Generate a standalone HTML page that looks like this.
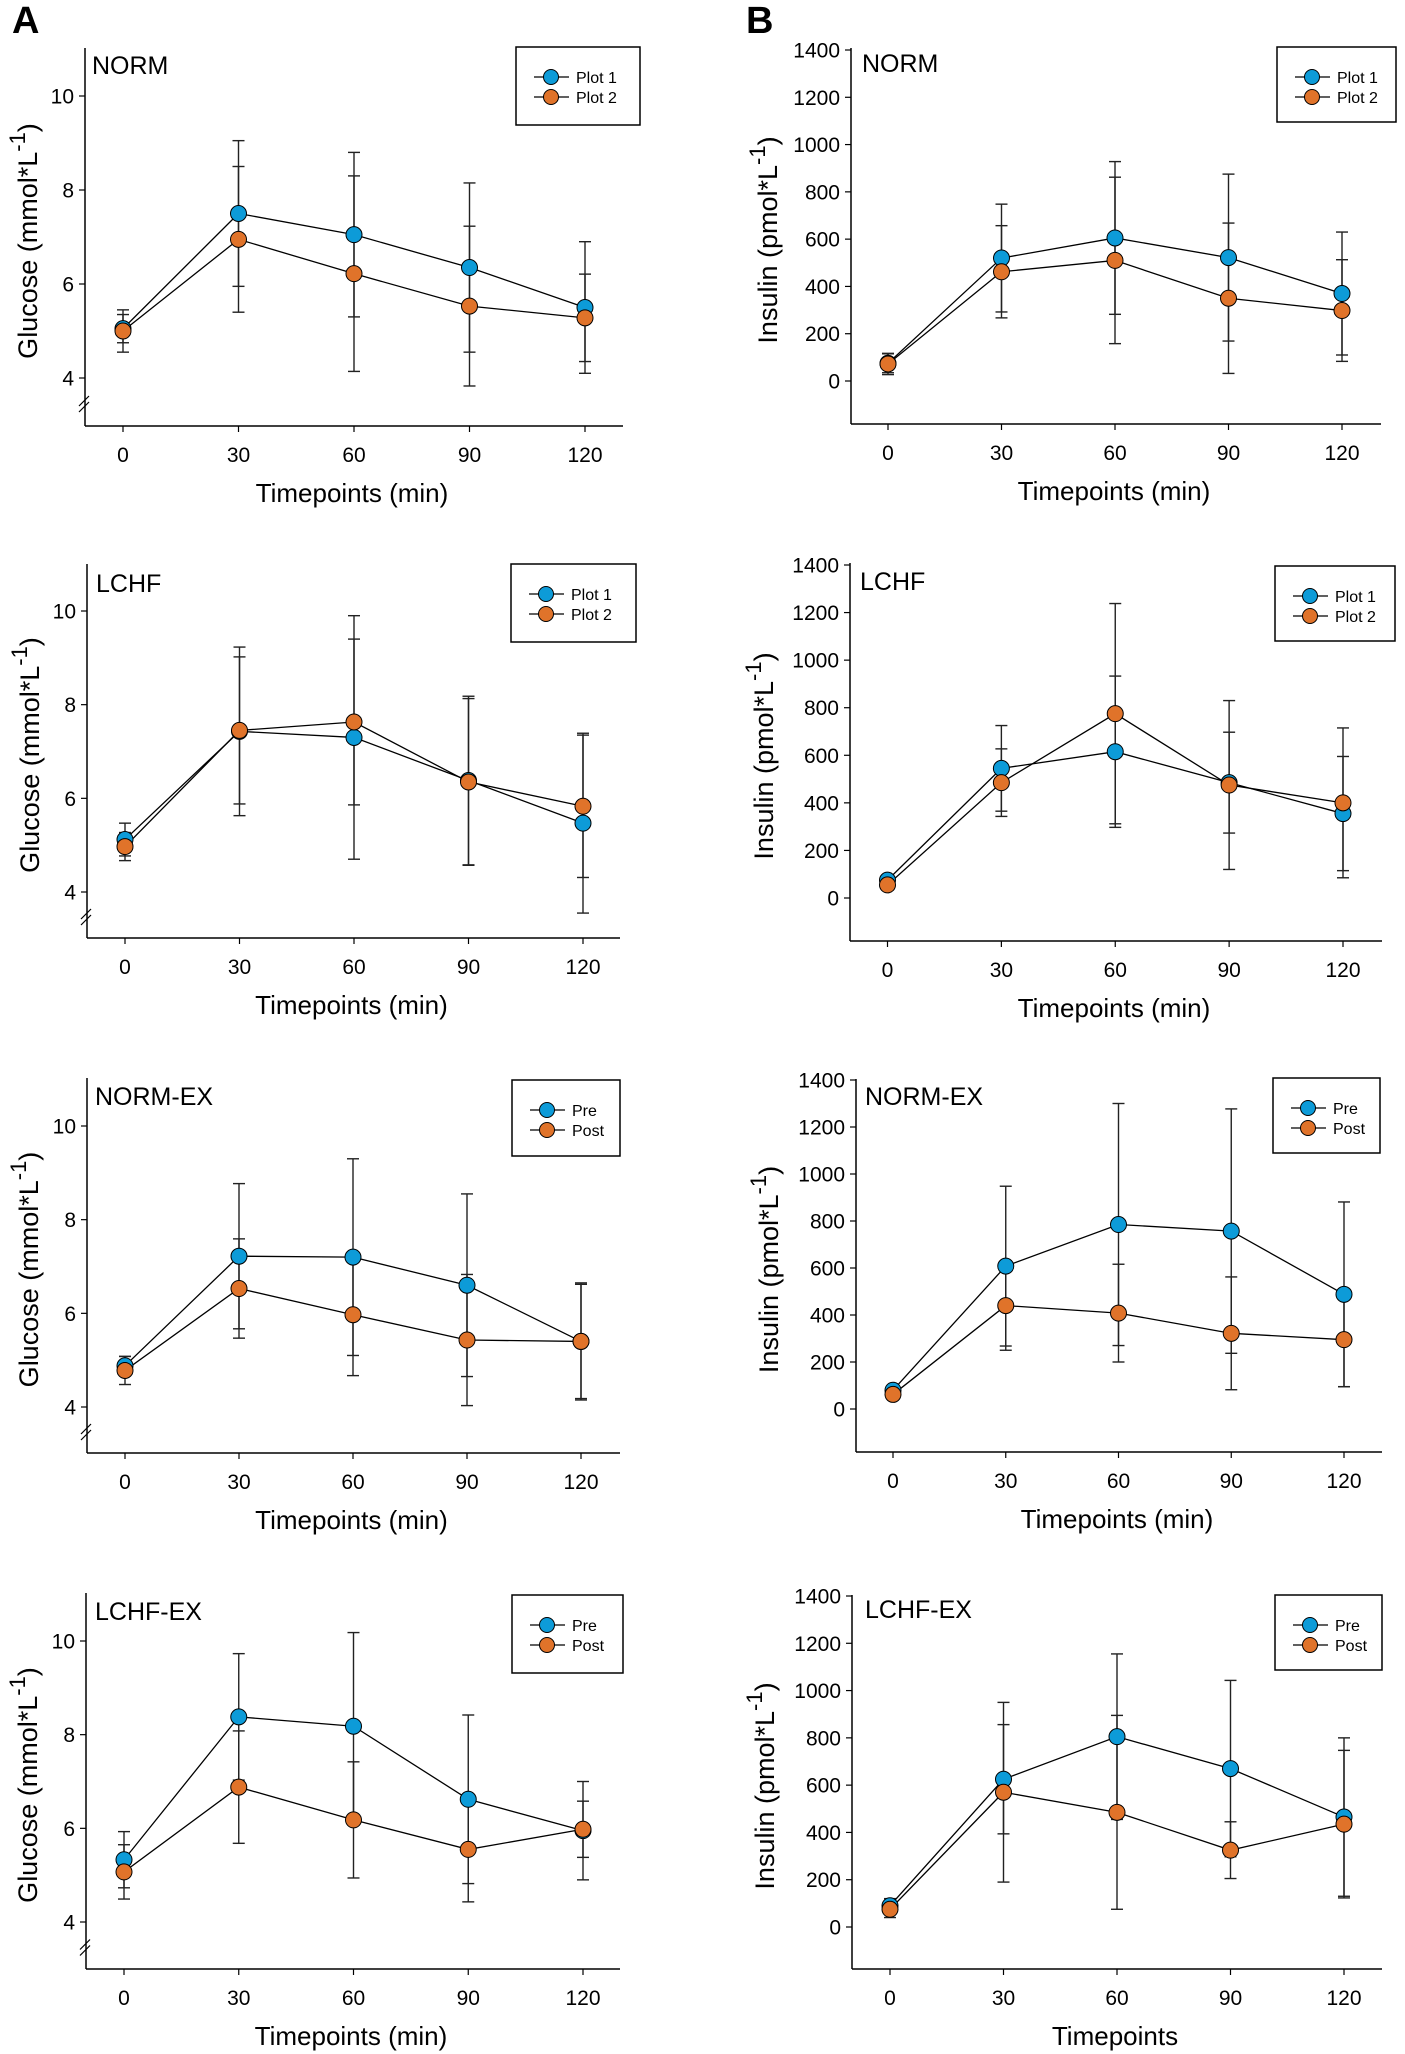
<!DOCTYPE html>
<html>
<head>
<meta charset="utf-8">
<style>
html,body{margin:0;padding:0;background:#fff;}
svg{display:block;}
text{font-family:"Liberation Sans Narrow","Liberation Sans",Arial,sans-serif;fill:#000;}
</style>
</head>
<body>
<svg id="fig" xmlns="http://www.w3.org/2000/svg" width="1405" height="2054" viewBox="0 0 1405 2054">
<rect x="0" y="0" width="1405" height="2054" fill="#fff"/>
<text x="12" y="33" font-size="38" font-weight="bold" style="font-family:'Liberation Sans',sans-serif">A</text>
<text x="746" y="33" font-size="38" font-weight="bold" style="font-family:'Liberation Sans',sans-serif">B</text>
</svg>
<script>
// ---- data ----
const timepoints = [0, 30, 60, 90, 120];
const glucoseTicks = [4, 6, 8, 10];
const insulinTicks = [0, 200, 400, 600, 800, 1000, 1200, 1400];

const normGluP1 = [5.05, 7.5, 7.05, 6.35, 5.5];
const normGluP1Err = [0.3, 1.55, 1.75, 1.8, 1.4];
const normGluP2 = [5.0, 6.95, 6.22, 5.53, 5.28];
const normGluP2Err = [0.45, 1.55, 2.08, 1.7, 0.93];

const lchfGluP1 = [5.12, 7.43, 7.3, 6.38, 5.47];
const lchfGluP1Err = [0.35, 1.8, 2.6, 1.8, 1.92];
const lchfGluP2 = [4.97, 7.45, 7.63, 6.35, 5.83];
const lchfGluP2Err = [0.3, 1.57, 1.77, 1.78, 1.52];

const normExGluPre = [4.88, 7.22, 7.2, 6.6, 5.4];
const normExGluPreErr = [0.2, 1.55, 2.1, 1.95, 1.25];
const normExGluPost = [4.78, 6.53, 5.97, 5.43, 5.4];
const normExGluPostErr = [0.3, 1.06, 1.3, 1.4, 1.22];

const lchfExGluPre = [5.33, 8.38, 8.18, 6.62, 5.95];
const lchfExGluPreErr = [0.6, 1.35, 2.0, 1.8, 1.05];
const lchfExGluPost = [5.07, 6.88, 6.18, 5.55, 5.98];
const lchfExGluPostErr = [0.58, 1.2, 1.24, 1.12, 0.6];

const normInsP1 = [75, 520, 605, 522, 370];
const normInsP1Err = [40, 228, 323, 353, 260];
const normInsP2 = [72, 462, 510, 350, 298];
const normInsP2Err = [45, 195, 352, 318, 215];

const lchfInsP1 = [75, 545, 615, 485, 355];
const lchfInsP1Err = [20, 180, 318, 212, 240];
const lchfInsP2 = [55, 485, 775, 475, 400];
const lchfInsP2Err = [20, 142, 463, 355, 315];

const normExInsPre = [80, 608, 785, 757, 488];
const normExInsPreErr = [20, 340, 515, 520, 393];
const normExInsPost = [62, 440, 408, 322, 295];
const normExInsPostErr = [20, 190, 208, 240, 200];

const lchfExInsPre = [90, 625, 805, 670, 465];
const lchfExInsPreErr = [30, 231, 350, 373, 335];
const lchfExInsPost = [75, 570, 485, 325, 435];
const lchfExInsPostErr = [35, 380, 410, 120, 312];

// ---- drawing ----
const NS = 'http://www.w3.org/2000/svg';
const svg = document.getElementById('fig');
const BLUE = '#0d9bd8', ORANGE = '#e0732a';

function mk(tag, attrs, parent) {
  const el = document.createElementNS(NS, tag);
  for (const k in attrs) el.setAttribute(k, attrs[k]);
  (parent || svg).appendChild(el);
  return el;
}

function panel(p) {
  const g = mk('g', {});
  
  
  const xs = v => p.x0 + (v - 0) * (p.x120 - p.x0) / 120;
  const ys = v => p.yHiPx + (p.yHi - v) * (p.yLoPx - p.yHiPx) / (p.yHi - p.yLo);
  const ya = mk('line', {x1: p.ax, y1: p.top, x2: p.ax, y2: p.bottom, stroke: '#000', 'stroke-width': 1.5}, g);
  
  
  const xa = mk('line', {x1: p.ax, y1: p.bottom, x2: p.right, y2: p.bottom, stroke: '#000', 'stroke-width': 1.5}, g);
  
  
  if (p.brk) {
    const by = (ys(p.yLo) + p.bottom) / 2 + 2;
    [-3, 3].forEach(d => {
      const bl = mk('line', {x1: p.ax - 6, y1: by + d + 5, x2: p.ax + 4, y2: by + d - 5, stroke: '#000', 'stroke-width': 1.2}, g);
      
      
    });
  }
  p.ticks.forEach(t => {
    const y = ys(t);
    mk('line', {x1: p.ax - 6, y1: y, x2: p.ax, y2: y, stroke: '#000', 'stroke-width': 1.2}, g);
    const tl = mk('text', {x: p.ax - 11, y: y + 7.5, 'font-size': 21, 'text-anchor': 'end'}, g);
    tl.textContent = t;
    
    
  });
  timepoints.forEach(t => {
    const x = xs(t);
    mk('line', {x1: x, y1: p.bottom, x2: x, y2: p.bottom + 6, stroke: '#000', 'stroke-width': 1.2}, g);
    const tl = mk('text', {x: x, y: p.bottom + 36, 'font-size': 21, 'text-anchor': 'middle'}, g);
    tl.textContent = t;
    
    
  });
  const xt = mk('text', {x: (p.ax + p.right) / 2 - 2, y: p.bottom + 76, 'font-size': 26, 'text-anchor': 'middle'}, g);
  xt.textContent = p.xTitle;
  
  
  const cy = (p.top + p.bottom) / 2 + 4;
  const yt = mk('text', {x: 0, y: 0, 'font-size': 27, 'text-anchor': 'middle', transform: 'translate(' + p.ytx + ',' + cy + ') rotate(-90)'}, g);
  
  
  const t1 = mk('tspan', {}, yt); t1.textContent = p.yTitle + ' (' + p.unit + '*L';
  const t2 = mk('tspan', {'font-size': 22, dy: -12}, yt); t2.textContent = '-1';
  const t3 = mk('tspan', {dy: 12}, yt); t3.textContent = ')';
  const pt = mk('text', {x: p.tx, y: p.ty, 'font-size': 25}, g);
  pt.textContent = p.title;
  
  
  const L = p.leg;
  const lg = mk('g', {}, g);
  
  
  mk('rect', {x: L[0], y: L[1], width: L[2] - L[0], height: L[3] - L[1], fill: '#fff', stroke: '#000', 'stroke-width': 1.5}, lg);
  const ly = [L[1] + 30, L[1] + 50];
  [[BLUE, p.names[0]], [ORANGE, p.names[1]]].forEach((e, i) => {
    const eg = mk('g', {}, lg);
    
    
    mk('line', {x1: L[0] + 18, y1: ly[i], x2: L[0] + 53, y2: ly[i], stroke: '#000', 'stroke-width': 1.2}, eg);
    mk('circle', {cx: L[0] + 35, cy: ly[i], r: 7.5, fill: e[0], stroke: '#000', 'stroke-width': 1}, eg);
    const et = mk('text', {x: L[0] + 60, y: ly[i] + 6, 'font-size': 16}, eg);
    et.textContent = e[1];
  });
  const series = [[p.s1, p.e1, BLUE, 'series-1'], [p.s2, p.e2, ORANGE, 'series-2']];
  series.forEach(s => {
    const sg = mk('g', {}, g);
    
    
    s[0].forEach((v, i) => {
      const x = xs(timepoints[i]);
      const yh = ys(v + s[1][i]), yl = ys(v - s[1][i]);
      mk('line', {x1: x, y1: yh, x2: x, y2: yl, stroke: '#222', 'stroke-width': 1.4}, sg);
      mk('line', {x1: x - 6, y1: yh, x2: x + 6, y2: yh, stroke: '#222', 'stroke-width': 1.4}, sg);
      mk('line', {x1: x - 6, y1: yl, x2: x + 6, y2: yl, stroke: '#222', 'stroke-width': 1.4}, sg);
    });
  });
  series.forEach(s => {
    const pts = s[0].map((v, i) => xs(timepoints[i]) + ',' + ys(v)).join(' ');
    const pl = mk('polyline', {points: pts, fill: 'none', stroke: '#000', 'stroke-width': 1.3}, g);
    
    
  });
  series.forEach(s => {
    s[0].forEach((v, i) => {
      const c = mk('circle', {cx: xs(timepoints[i]), cy: ys(v), r: 8, fill: s[2], stroke: '#000', 'stroke-width': 1}, g);
      
      
    });
  });
}

const G = {yTitle: 'Glucose', unit: 'mmol', ticks: glucoseTicks, yHi: 10, yLo: 4, brk: true, xTitle: 'Timepoints (min)'};
const I = {yTitle: 'Insulin', unit: 'pmol', ticks: insulinTicks, yHi: 1400, yLo: 0, brk: false, xTitle: 'Timepoints (min)'};

panel(Object.assign({}, G, {name: 'glucose-norm-panel', title: 'NORM', names: ['Plot 1', 'Plot 2'],
  ax: 85, top: 48, bottom: 426, right: 623, x0: 123, x120: 585, yHiPx: 96, yLoPx: 378,
  leg: [516, 47, 640, 125], tx: 92, ty: 74, ytx: 37,
  s1: normGluP1, e1: normGluP1Err, s2: normGluP2, e2: normGluP2Err}));
panel(Object.assign({}, G, {name: 'glucose-lchf-panel', title: 'LCHF', names: ['Plot 1', 'Plot 2'],
  ax: 87, top: 564, bottom: 938, right: 620, x0: 125, x120: 583, yHiPx: 611, yLoPx: 892,
  leg: [511, 564, 636, 642], tx: 96, ty: 592, ytx: 39,
  s1: lchfGluP1, e1: lchfGluP1Err, s2: lchfGluP2, e2: lchfGluP2Err}));
panel(Object.assign({}, G, {name: 'glucose-norm-ex-panel', title: 'NORM-EX', names: ['Pre', 'Post'],
  ax: 87, top: 1078, bottom: 1453, right: 620, x0: 125, x120: 581, yHiPx: 1126, yLoPx: 1407,
  leg: [512, 1080, 620, 1156], tx: 95, ty: 1105, ytx: 38,
  s1: normExGluPre, e1: normExGluPreErr, s2: normExGluPost, e2: normExGluPostErr}));
panel(Object.assign({}, G, {name: 'glucose-lchf-ex-panel', title: 'LCHF-EX', names: ['Pre', 'Post'],
  ax: 86, top: 1593, bottom: 1969, right: 620, x0: 124, x120: 583, yHiPx: 1641, yLoPx: 1922,
  leg: [512, 1595, 623, 1673], tx: 95, ty: 1620, ytx: 37,
  s1: lchfExGluPre, e1: lchfExGluPreErr, s2: lchfExGluPost, e2: lchfExGluPostErr}));

panel(Object.assign({}, I, {name: 'insulin-norm-panel', title: 'NORM', names: ['Plot 1', 'Plot 2'],
  ax: 851, top: 48, bottom: 424, right: 1381, x0: 888, x120: 1342, yHiPx: 50, yLoPx: 381,
  leg: [1277, 47, 1396, 122], tx: 862, ty: 72, ytx: 777,
  s1: normInsP1, e1: normInsP1Err, s2: normInsP2, e2: normInsP2Err}));
panel(Object.assign({}, I, {name: 'insulin-lchf-panel', title: 'LCHF', names: ['Plot 1', 'Plot 2'],
  ax: 850, top: 563, bottom: 941, right: 1382, x0: 887.5, x120: 1343, yHiPx: 565, yLoPx: 898,
  leg: [1275, 566, 1395, 641], tx: 860, ty: 590, ytx: 773,
  s1: lchfInsP1, e1: lchfInsP1Err, s2: lchfInsP2, e2: lchfInsP2Err}));
panel(Object.assign({}, I, {name: 'insulin-norm-ex-panel', title: 'NORM-EX', names: ['Pre', 'Post'],
  ax: 856, top: 1079, bottom: 1452, right: 1382, x0: 893, x120: 1344, yHiPx: 1080, yLoPx: 1409,
  leg: [1273, 1078, 1380, 1153], tx: 865, ty: 1105, ytx: 778,
  s1: normExInsPre, e1: normExInsPreErr, s2: normExInsPost, e2: normExInsPostErr}));
panel(Object.assign({}, I, {name: 'insulin-lchf-ex-panel', title: 'LCHF-EX', names: ['Pre', 'Post'],
  ax: 852, top: 1595, bottom: 1969, right: 1382, x0: 890, x120: 1344, yHiPx: 1596, yLoPx: 1927,
  leg: [1275, 1595, 1382, 1670], tx: 865, ty: 1618, ytx: 774, xTitle: 'Timepoints',
  s1: lchfExInsPre, e1: lchfExInsPreErr, s2: lchfExInsPost, e2: lchfExInsPostErr}));
</script>
</body>
</html>
